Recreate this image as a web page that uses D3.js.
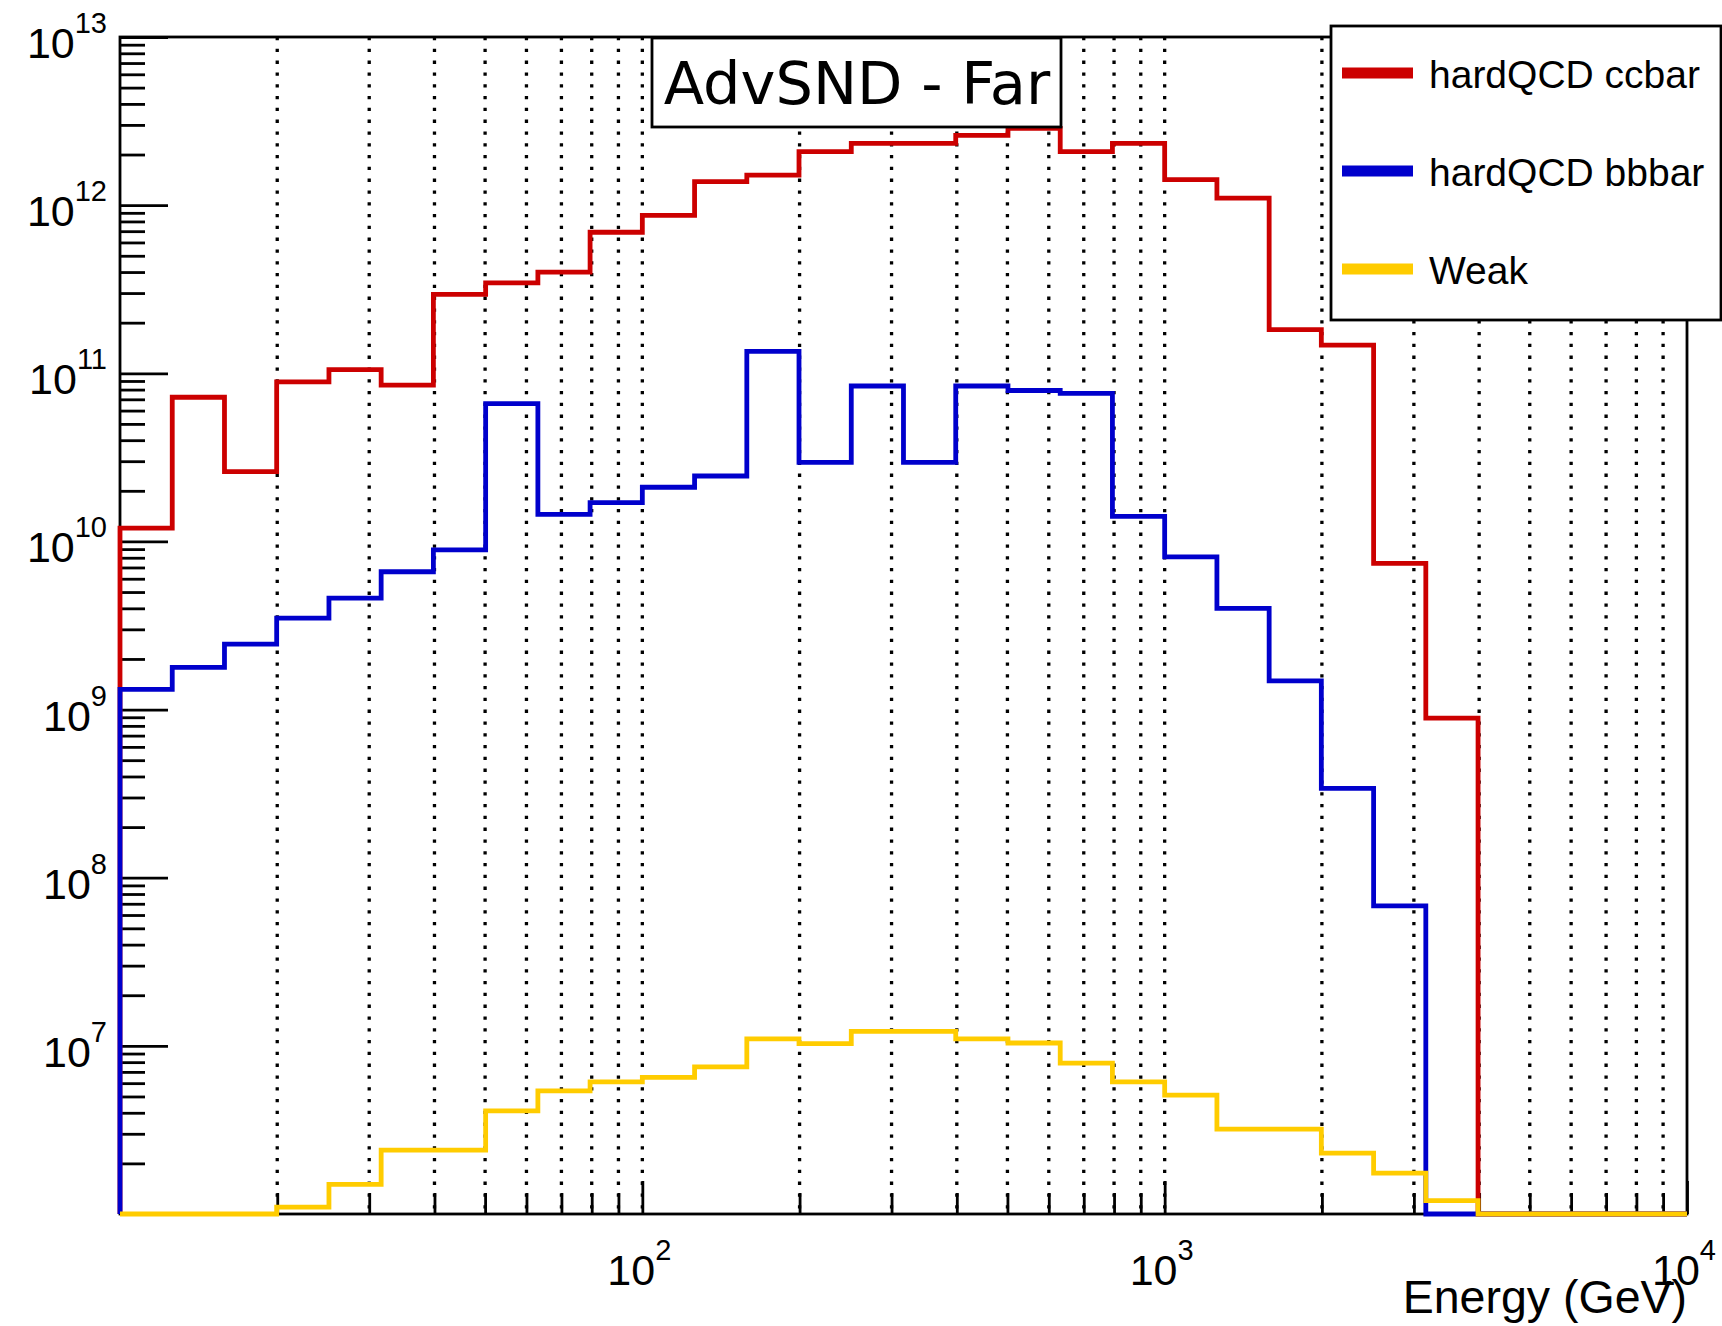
<!DOCTYPE html>
<html>
<head>
<meta charset="utf-8">
<script src="https://cdn.jsdelivr.net/npm/d3@7"></script>
<style>
  body { margin: 0; background: #fff; }
  svg { display: block; }
</style>
</head>
<body>
<div id="chart"></div>
<script>
// bin edges (GeV), 30 log bins from 10 to 10^4
const binEdges = [10, 12.59, 15.85, 19.95, 25.12, 31.62, 39.81, 50.12, 63.10, 79.43,
  100, 125.9, 158.5, 199.5, 251.2, 316.2, 398.1, 501.2, 631.0, 794.3,
  1000, 1259, 1585, 1995, 2512, 3162, 3981, 5012, 6310, 7943, 10000]

const ccbar = [1.2e10, 7.2e10, 2.6e10, 8.9e10, 1.05e11, 8.5e10, 2.95e11, 3.45e11, 4.0e11, 6.9e11,
  8.7e11, 1.38e12, 1.51e12, 2.08e12, 2.33e12, 2.33e12, 2.6e12, 2.86e12, 2.08e12, 2.33e12,
  1.42e12, 1.1e12, 1.82e11, 1.47e11, 7.4e9, 8.9e8, 0, 0, 0, 0]

const bbbar = [1.32e9, 1.78e9, 2.45e9, 3.5e9, 4.6e9, 6.6e9, 8.9e9, 6.6e10, 1.45e10, 1.7e10,
  2.1e10, 2.45e10, 1.35e11, 2.95e10, 8.4e10, 2.95e10, 8.4e10, 7.9e10, 7.6e10, 1.41e10,
  8.1e9, 4.0e9, 1.48e9, 3.4e8, 6.8e7, 0, 0, 0, 0, 0]

const weak = [0, 0, 0, 1.1e6, 1.5e6, 2.4e6, 2.4e6, 4.1e6, 5.4e6, 6.1e6,
  6.5e6, 7.5e6, 1.1e7, 1.03e7, 1.22e7, 1.22e7, 1.1e7, 1.04e7, 7.9e6, 6.1e6,
  5.1e6, 3.2e6, 3.2e6, 2.3e6, 1.75e6, 1.2e6, 0, 0, 0, 0]

const seriesNames = ["hardQCD ccbar", "hardQCD bbbar", "Weak"]
const seriesColors = ["#cc0000", "#0000cc", "#ffcc00"]

const yMajorTicks = [1e7, 1e8, 1e9, 1e10, 1e11, 1e12, 1e13]
const xMajorTicks = [1e2, 1e3, 1e4]
const titleText = "AdvSND - Far"
const xTitle = "Energy (GeV)"

// dimensions
const width = 1722
const height = 1326
const frame = { left: 120, right: 1687, top: 37, bottom: 1214 }

const svg = d3.select("#chart")
  .append("svg")
  .attr("width", width)
  .attr("height", height)

svg.append("rect")
  .attr("width", width)
  .attr("height", height)
  .attr("fill", "#fff")

// scales
const xScale = d3.scaleLog()
  .domain([binEdges[0], binEdges[binEdges.length - 1]])
  .range([frame.left, frame.right])

const yMin = 1e6
const yScale = d3.scaleLog()
  .domain([yMin, 1e13])
  .range([frame.bottom, frame.top])
  .clamp(true)

// vertical dotted grid
const gridVals = xScale.ticks().filter(d => d > 10 && d < 1e4)
svg.append("g")
  .selectAll("line")
  .data(gridVals)
  .join("line")
  .attr("x1", d => xScale(d))
  .attr("x2", d => xScale(d))
  .attr("y1", frame.top)
  .attr("y2", frame.bottom)
  .attr("stroke", "#000")
  .attr("stroke-width", 3.3)
  .attr("stroke-dasharray", "3.3 8.5")

// frame
svg.append("rect")
  .attr("x", frame.left)
  .attr("y", frame.top)
  .attr("width", frame.right - frame.left)
  .attr("height", frame.bottom - frame.top)
  .attr("fill", "none")
  .attr("stroke", "#000")
  .attr("stroke-width", 2.8)

// y ticks (inside the frame)
const isMajor = d => Math.abs(Math.log10(d) - Math.round(Math.log10(d))) < 1e-6
svg.append("g")
  .attr("transform", `translate(${frame.left},0)`)
  .call(d3.axisRight(yScale)
    .tickValues(yScale.ticks().filter(d => !isMajor(d)))
    .tickSize(25)
    .tickFormat(""))
  .call(g => g.select(".domain").remove())
  .call(g => g.selectAll("line").attr("stroke-width", 2.8))

svg.append("g")
  .attr("transform", `translate(${frame.left},0)`)
  .call(d3.axisRight(yScale)
    .tickValues(yMajorTicks)
    .tickSize(48)
    .tickFormat(""))
  .call(g => g.select(".domain").remove())
  .call(g => g.selectAll("line").attr("stroke-width", 2.8))

// x ticks (inside the frame)
svg.append("g")
  .attr("transform", `translate(0,${frame.bottom})`)
  .call(d3.axisTop(xScale)
    .tickValues(xScale.ticks().filter(d => !isMajor(d)))
    .tickSize(21)
    .tickFormat(""))
  .call(g => g.select(".domain").remove())
  .call(g => g.selectAll("line").attr("stroke-width", 2.8))

svg.append("g")
  .attr("transform", `translate(0,${frame.bottom})`)
  .call(d3.axisTop(xScale)
    .tickValues(xMajorTicks)
    .tickSize(33)
    .tickFormat(""))
  .call(g => g.select(".domain").remove())
  .call(g => g.selectAll("line").attr("stroke-width", 2.8))

// tick labels as 10^n
const labelFont = "'Liberation Sans', Arial, Helvetica, sans-serif"
function powerLabel(sel) {
  sel.append("tspan").attr("font-size", 43).text("10")
  sel.append("tspan").attr("font-size", 29).attr("dy", -25)
    .text(d => Math.round(Math.log10(d)))
}

svg.append("g")
  .selectAll("text")
  .data(yMajorTicks)
  .join("text")
  .attr("x", 107)
  .attr("y", d => yScale(d) + 21)
  .attr("text-anchor", "end")
  .attr("font-family", labelFont)
  .attr("fill", "#000")
  .call(powerLabel)

svg.append("g")
  .selectAll("text")
  .data(xMajorTicks)
  .join("text")
  .attr("x", d => xScale(d) - 3)
  .attr("y", 1285)
  .attr("text-anchor", "middle")
  .attr("font-family", labelFont)
  .attr("fill", "#000")
  .call(powerLabel)

svg.append("text")
  .attr("x", frame.right)
  .attr("y", 1313)
  .attr("text-anchor", "end")
  .attr("font-family", labelFont)
  .attr("font-size", 46.5)
  .attr("fill", "#000")
  .text(xTitle)

// histograms
const seriesData = [ccbar, bbbar, weak]
const stepLine = d3.line()
  .x(d => xScale(d.x))
  .y(d => yScale(Math.max(d.v, yMin)))
  .curve(d3.curveStepAfter)

seriesData.forEach((vals, s) => {
  const pts = [{ x: binEdges[0], v: 0 }]
  vals.forEach((v, i) => pts.push({ x: binEdges[i], v: v }))
  pts.push({ x: binEdges[binEdges.length - 1], v: vals[vals.length - 1] })
  svg.append("path")
    .attr("d", stepLine(pts))
    .attr("fill", "none")
    .attr("stroke", seriesColors[s])
    .attr("stroke-width", 4.8)
    .attr("stroke-linejoin", "miter")
})

// title box
svg.append("rect")
  .attr("x", 652)
  .attr("y", 38)
  .attr("width", 409)
  .attr("height", 89)
  .attr("fill", "#fff")
  .attr("stroke", "#000")
  .attr("stroke-width", 2.8)

svg.append("text")
  .attr("x", 857)
  .attr("y", 104)
  .attr("text-anchor", "middle")
  .attr("font-family", "'DejaVu Sans', Verdana, sans-serif")
  .attr("font-size", 59)
  .attr("fill", "#000")
  .text(titleText)

// legend
const legend = svg.append("g")
legend.append("rect")
  .attr("x", 1331)
  .attr("y", 26)
  .attr("width", 390)
  .attr("height", 294)
  .attr("fill", "#fff")
  .attr("stroke", "#000")
  .attr("stroke-width", 2.8)

const rowY = [73, 171, 269]
seriesNames.forEach((name, i) => {
  legend.append("line")
    .attr("x1", 1342)
    .attr("x2", 1413)
    .attr("y1", rowY[i])
    .attr("y2", rowY[i])
    .attr("stroke", seriesColors[i])
    .attr("stroke-width", 11)
  legend.append("text")
    .attr("x", 1429)
    .attr("y", rowY[i] + 15)
    .attr("font-family", labelFont)
    .attr("font-size", 39)
    .attr("fill", "#000")
    .text(name)
})
</script>
</body>
</html>
